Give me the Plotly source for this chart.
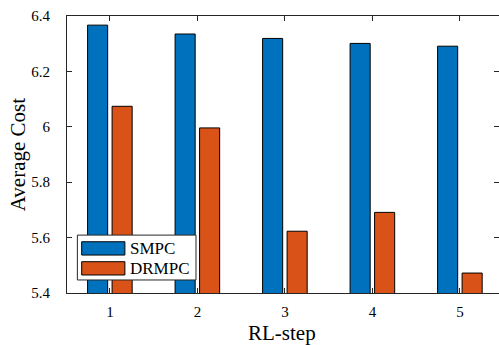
import plotly.graph_objects as go

steps = [1, 2, 3, 4, 5]
smpc = [6.367, 6.335, 6.319, 6.301, 6.291]
drmpc = [6.074, 5.996, 5.623, 5.691, 5.472]
y_ticks = [5.4, 5.6, 5.8, 6.0, 6.2, 6.4]
y_ticktext = ["5.4", "5.6", "5.8", "6", "6.2", "6.4"]
series_names = ["SMPC", "DRMPC"]
series_colors = ["#0072BD", "#D95319"]

font_family = "Liberation Serif, DejaVu Serif, serif"
axis_color = "#262626"

fig = go.Figure()
for name, vals, col in zip(series_names, [smpc, drmpc], series_colors):
    fig.add_trace(go.Bar(x=steps, y=vals, name=name,
                         marker=dict(color=col, line=dict(color="black", width=1))))

fig.update_layout(
    width=499, height=345,
    margin=dict(l=67, r=0, t=16, b=52, autoexpand=False),
    paper_bgcolor="white", plot_bgcolor="white",
    barmode="group", bargap=0.44, bargroupgap=0.18,
    font=dict(family=font_family, size=15, color=axis_color),
    showlegend=False,
)
fig.update_xaxes(range=[0.51, 5.447], tickvals=steps, ticks="inside", ticklen=5,
                 tickcolor=axis_color, showline=True, linecolor=axis_color, linewidth=1,
                 mirror="ticks", showgrid=False, zeroline=False, automargin=False,
                 ticklabelstandoff=5, tickfont=dict(size=15, color="black"))
fig.update_yaxes(range=[5.4, 6.4], tickvals=y_ticks, ticktext=y_ticktext, ticks="inside", ticklen=5,
                 tickcolor=axis_color, showline=True, linecolor=axis_color, linewidth=1,
                 mirror="ticks", showgrid=False, zeroline=False, automargin=False,
                 ticklabelstandoff=13, tickfont=dict(size=15, color="black"))

# axis titles
fig.add_annotation(text="RL-step", xref="paper", yref="paper", x=0.498, y=-0.143,
                   xanchor="center", yanchor="middle", showarrow=False,
                   font=dict(size=21, color="black", family=font_family))
fig.add_annotation(text="Average Cost", xref="paper", yref="paper", x=-0.113, y=0.498,
                   xanchor="center", yanchor="middle", textangle=-90, showarrow=False,
                   font=dict(size=21, color="black", family=font_family))

# MATLAB-style legend (box, wide swatches, labels)
fig.add_shape(type="rect", xref="paper", yref="paper", x0=0.024, x1=0.2986, y0=0.047, y1=0.209,
              fillcolor="white", line=dict(color=axis_color, width=1), layer="above")
sw_y = [(0.137, 0.185), (0.065, 0.113)]
for name, col, (y0, y1) in zip(series_names, series_colors, sw_y):
    fig.add_shape(type="rect", xref="paper", yref="paper", x0=0.034, x1=0.134, y0=y0, y1=y1,
                  fillcolor=col, line=dict(color="black", width=1), layer="above")
    fig.add_annotation(text=name, xref="paper", yref="paper", x=0.141, y=(y0 + y1) / 2,
                       xanchor="left", yanchor="middle", showarrow=False,
                       font=dict(size=17, color="black", family=font_family))

fig.write_html("out.html", config={"displayModeBar": False},
               post_script="document.body.style.margin='0px';document.body.style.overflow='hidden';")
